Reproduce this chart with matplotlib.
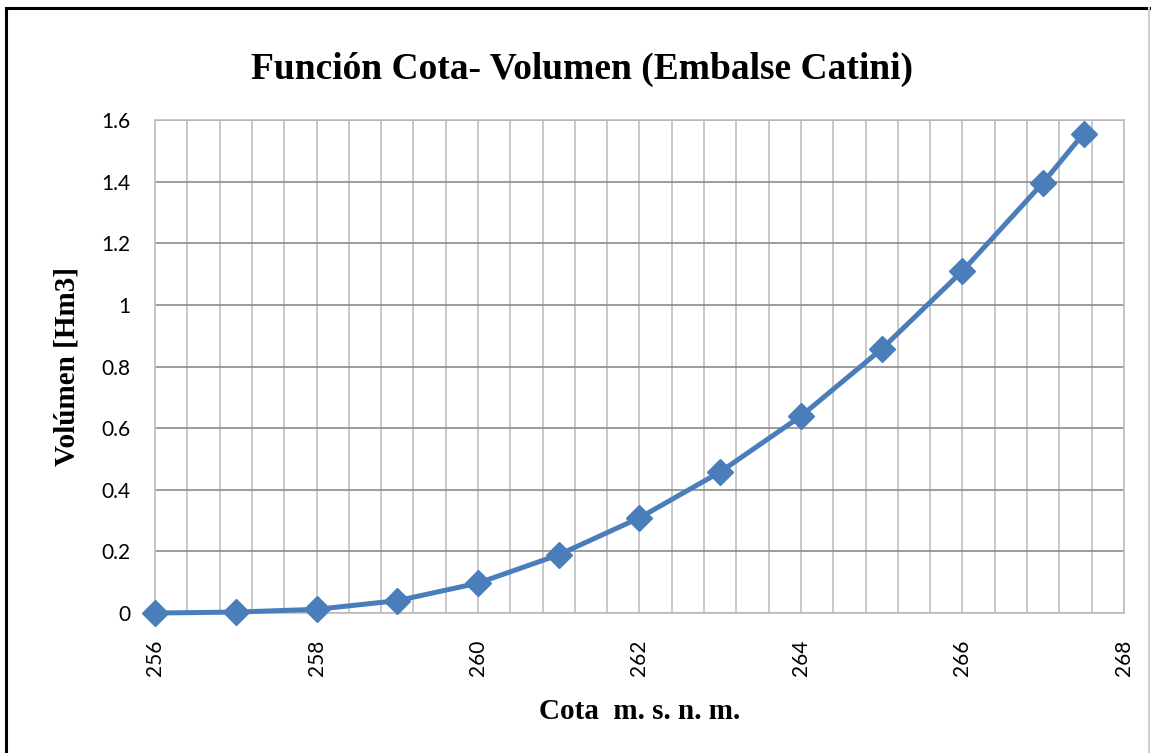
import numpy as np
import matplotlib.pyplot as plt
from matplotlib.lines import Line2D
from matplotlib.ticker import MultipleLocator

# Cota (m.s.n.m.) y volumen acumulado (Hm3)
cota = [256, 257, 258, 259, 260, 261, 262, 263, 264, 265, 266, 267, 267.5]
volumen = [0.0, 0.003, 0.012, 0.040, 0.097, 0.189, 0.309, 0.458, 0.639, 0.857, 1.110, 1.397, 1.556]

plt.rcParams['font.family'] = ['Lato', 'DejaVu Sans']

fig = plt.figure(figsize=(11.51, 7.53), dpi=100)
ax = fig.add_axes([0.1347, 0.1859, 0.9765 - 0.1347, 0.8406 - 0.1859])

# marco de la figura
fig.add_artist(Line2D([0.0055, 0.0055], [0, 0.9895], transform=fig.transFigure,
                      color='black', linewidth=2.2))
fig.add_artist(Line2D([0.0055, 0.998], [0.9895, 0.9895], transform=fig.transFigure,
                      color='black', linewidth=2.2))
fig.add_artist(Line2D([0.998, 0.998], [0, 0.9895], transform=fig.transFigure,
                      color='#D0D0D0', linewidth=1.5))

ax.plot(cota, volumen, color='#4A7EBB', linewidth=3.6, marker='D', markersize=13,
        markerfacecolor='#4A7EBB', markeredgecolor='#4A7EBB', zorder=3, clip_on=False)

ax.set_xlim(256, 268)
ax.set_ylim(0, 1.6)
ax.xaxis.set_major_locator(MultipleLocator(2))
ax.xaxis.set_minor_locator(MultipleLocator(0.4))
ax.yaxis.set_major_locator(MultipleLocator(0.2))

ax.grid(which='major', axis='y', color='#8C8C8C', linewidth=1.2)
ax.grid(which='both', axis='x', color='#BFBFBF', linewidth=1.2)
ax.set_axisbelow(True)
for s in ax.spines.values():
    s.set_color('#BFBFBF')
    s.set_linewidth(1.2)

ax.tick_params(which='both', length=0)
ax.tick_params(axis='x', labelrotation=90, pad=19, labelsize=15)
ax.tick_params(axis='y', pad=18, labelsize=15)
ax.yaxis.set_major_formatter(plt.FuncFormatter(lambda v, p: f'{v:g}'))

fig.text(582 / 1151, 0.895, 'Función Cota- Volumen (Embalse Catini)', family='Liberation Serif',
         fontweight='bold', fontsize=27, ha='center', va='baseline')
ax.set_xlabel('Cota  m. s. n. m.', family='Liberation Serif', fontweight='bold',
              fontsize=21, labelpad=16)
ax.set_ylabel('Volúmen [Hm3]', family='Liberation Serif', fontweight='bold',
              fontsize=21, labelpad=15)

fig.savefig('out.png', dpi=100)
